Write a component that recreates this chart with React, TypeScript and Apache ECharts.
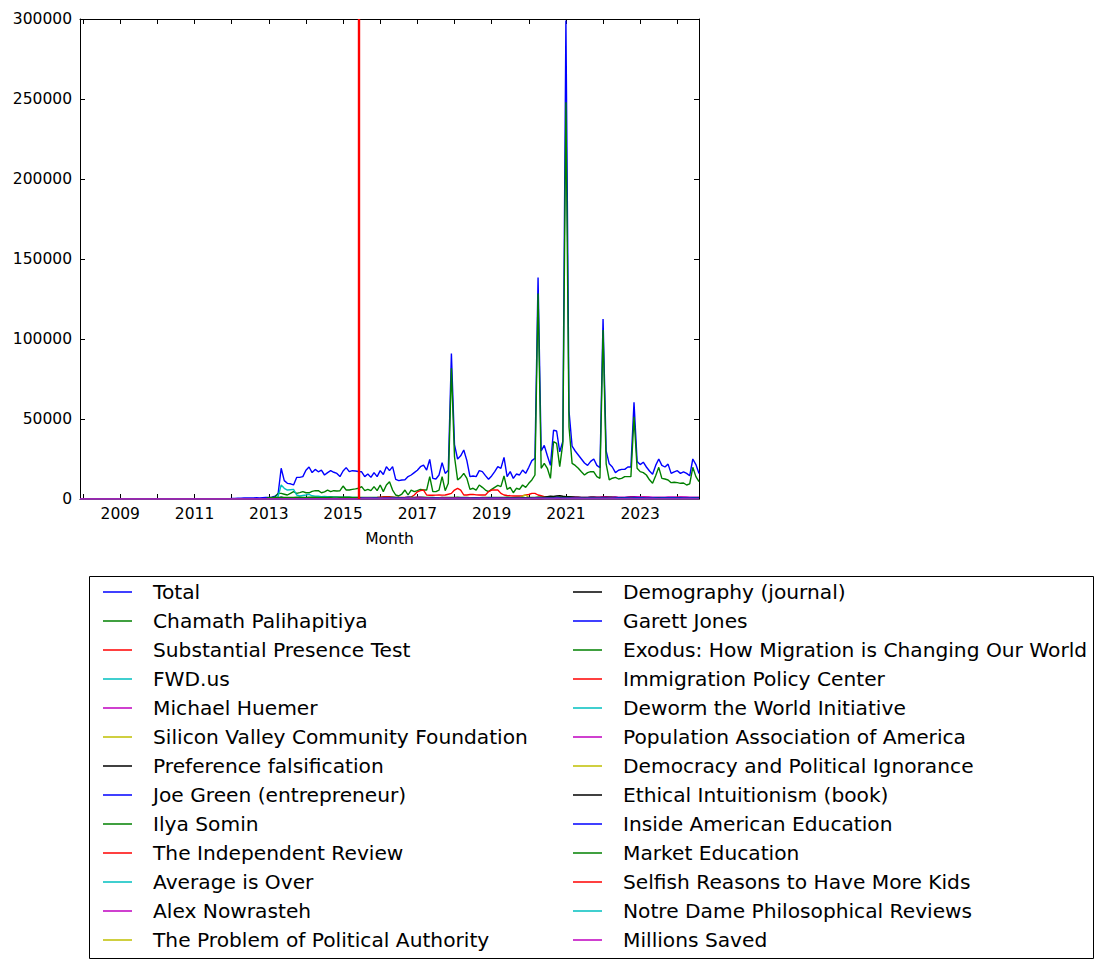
import React, { useEffect, useRef } from 'react';
import * as echarts from 'echarts';

// Monthly categories, Dec 2007 .. Aug 2024
const months: string[] = [];
{
  let y = 2007;
  let m = 12;
  while (y < 2024 || (y === 2024 && m <= 8)) {
    months.push(`${y}-${String(m).padStart(2, '0')}`);
    m++;
    if (m > 12) { m = 1; y++; }
  }
}

const yTicks = [0, 50000, 100000, 150000, 200000, 250000, 300000];
const vlineMonth = '2015-06';

// ---- values (zero before each series' start month) ----
const total = [ // from 2012-01
  300, 400, 500, 500, 600, 700, 600, 700, 800, 700, 800, 900,
  1000, 1200, 1800, 3000, 19200, 11500, 9800, 9500, 8800, 13500, 13500, 14000,
  18000, 20000, 16500, 18500, 17000, 18000, 15000, 16500, 17700, 16700, 16000, 14000,
  17500, 19600, 17100, 17700, 17500, 17200, 17000, 14000, 15600, 13500, 16500, 14000,
  17700, 15300, 20200, 17700, 20200, 12300, 11500, 11900, 12000, 14000, 15000, 16500,
  18000, 20200, 21200, 18100, 24800, 12900, 12500, 15000, 22700, 16000, 18000, 91000,
  34000, 25000, 27000, 30600, 24000, 14000, 14400, 14000, 17700, 17100, 14600, 12300,
  14400, 17100, 20200, 19200, 26000, 14000, 17100, 12900, 15600, 15000, 18100, 16000,
  19800, 24000, 25400, 138500, 30000, 33500, 27000, 21000, 43000, 42500, 29500, 36000,
  299000, 55000, 33000, 30000, 27500, 25000, 22500, 21000, 23500, 25000, 21000, 19500,
  112500, 30000, 22000, 20000, 16500, 18000, 18500, 18500, 20000, 20000, 60500, 23500,
  21500, 23000, 20000, 17500, 15500, 21000, 25000, 21000, 20000, 21800, 16000, 17000,
  17700, 16000, 17000, 16000, 14500, 25000, 21500, 16000,
];
const chamath = [ // from 2013-01
  800, 900, 1200, 3500, 3500, 3000, 2500, 3500, 4600, 3500, 4000, 4600,
  3900, 3900, 4800, 5200, 5200, 3900, 4500, 5600, 4600, 5200, 5000, 5200,
  8100, 5600, 5600, 6000, 6300, 6700, 7700, 5200, 6000, 5200, 7700, 5200,
  8750, 4600, 8750, 10800, 5600, 2500, 1900, 3100, 5600, 2500, 5600, 4600,
  5200, 6000, 5600, 5600, 14000, 4600, 4600, 5600, 14000, 5200, 9800, 81700,
  26400, 11900, 13500, 16000, 12900, 6000, 6700, 5600, 8750, 7300, 5600, 4600,
  6000, 7300, 8500, 7700, 14400, 6000, 7300, 3900, 6700, 6000, 8750, 7300,
  9800, 11900, 15000, 128500, 19200, 22300, 19200, 12900, 35800, 34800, 20200, 34800,
  248000, 45000, 22300, 21000, 19200, 17000, 15000, 16500, 17100, 17000, 14000, 12900,
  105600, 22000, 11900, 13000, 13500, 12500, 12900, 14000, 14000, 14000, 51400, 19200,
  17100, 16500, 15000, 12000, 9800, 14500, 19800, 12900, 12500, 11900, 10200, 10500,
  10200, 9800, 10000, 8750, 9500, 19800, 14000, 10800,
];
const substantialPresence = [ // from 2015-07
  600, 700, 700, 800, 800, 900,
  1200, 1400, 1500, 1400, 1200, 1000, 900, 900, 1000, 1100, 1200, 2500,
  4500, 5200, 5600, 2500, 2300, 2300, 2400, 2500, 2400, 2500, 3000, 3500,
  5600, 6700, 5600, 2500, 2500, 2800, 2900, 2600, 2500, 2500, 2500, 4600,
  5600, 5600, 5600, 3500, 2500, 2200, 2000, 1900, 1900, 1900, 2100, 2500,
  2800, 3500, 3500, 2500, 2000, 1500, 1300, 1200, 1100, 1000, 1000, 1100,
  1300, 1400, 1200, 1000, 900, 800, 800, 800, 900, 900, 900, 1000,
  1300, 1400, 1200, 1000, 900, 800, 800, 800, 800, 800, 900, 900,
  1200, 1300, 1100, 900, 800, 700, 700, 700, 700, 700, 800, 800,
  1100, 1200, 1000, 800, 700, 700, 700, 700,
];
const fwdUs = [ // from 2013-03
  300, 1500, 8750, 6700, 5600, 5800, 6000, 2500, 1900, 2200,
  2500, 2900, 2000, 1800, 1700, 1500, 1600, 1500, 1400, 1300, 1300, 1200,
  1200, 1100, 1100, 1000, 1000, 900, 700, 650, 650, 600, 600, 650,
  600, 600, 620, 580, 560, 540, 520, 500, 520, 540, 600, 650,
  700, 650, 620, 600, 580, 560, 540, 560, 600, 580, 560, 540,
  560, 540, 520, 500, 480, 500, 480, 460, 480, 460, 440, 420,
  440, 420, 400, 420, 400, 380, 360, 380, 400, 380, 360, 340,
  360, 340, 330, 320, 340, 360, 340, 320, 340, 330, 320, 300,
  320, 300, 290, 280, 270, 260, 250, 260, 270, 260, 250, 240,
  250, 240, 230, 240, 230, 220, 210, 220, 230, 220, 210, 200,
  210, 200, 190, 200, 190, 180, 170, 180, 190, 180, 170, 160,
  170, 160, 160, 150, 150, 140, 140, 150,
];
const michaelHuemer = [ // from 2015-07
  300, 320, 350, 330, 310, 300,
  320, 340, 330, 310, 300, 290, 280, 300, 320, 340, 330, 310,
  330, 350, 360, 340, 330, 320, 310, 330, 350, 360, 340, 330,
  350, 370, 360, 350, 340, 330, 320, 340, 360, 380, 360, 350,
  380, 400, 420, 410, 400, 390, 380, 420, 460, 500, 520, 560,
  600, 650, 700, 750, 800, 850, 820, 880, 900, 950, 1000, 1050,
  1100, 1150, 1100, 1050, 1000, 950, 980, 1000, 1050, 1100, 1150, 1200,
  1250, 1300, 1350, 1300, 1250, 1200, 1150, 1200, 1300, 1400, 1450, 1400,
  1350, 1300, 1300, 1250, 1200, 1150, 1100, 1150, 1200, 1250, 1300, 1250,
  1200, 1250, 1300, 1250, 1200, 1150, 1100, 1150,
];
const siliconValley = [ // from 2015-07
  700, 680, 650, 640, 620, 600,
  650, 640, 660, 630, 610, 600, 580, 590, 620, 640, 630, 600,
  640, 620, 650, 630, 600, 580, 560, 570, 600, 620, 610, 590,
  620, 600, 610, 590, 570, 560, 540, 550, 580, 600, 590, 570,
  600, 580, 590, 570, 550, 540, 520, 530, 560, 580, 1800, 2500,
  900, 560, 550, 530, 520, 510, 500, 490, 510, 520, 510, 500,
  520, 510, 500, 490, 480, 470, 460, 470, 480, 490, 480, 470,
  480, 470, 460, 450, 440, 430, 420, 430, 440, 450, 440, 430,
  440, 430, 420, 410, 400, 390, 380, 390, 400, 410, 400, 390,
  400, 390, 380, 370, 360, 350, 340, 350,
];
const preferenceFalsification = [ // from 2015-07
  400, 420, 450, 430, 410, 400,
  420, 440, 430, 410, 400, 390, 380, 400, 420, 440, 430, 410,
  450, 480, 470, 450, 430, 420, 410, 430, 450, 470, 460, 440,
  460, 480, 470, 450, 440, 430, 420, 440, 460, 480, 470, 450,
  480, 500, 520, 510, 500, 490, 480, 520, 560, 600, 620, 660,
  700, 750, 800, 900, 1000, 1200, 1500, 1800, 1600, 1900, 2000, 1700,
  1500, 1400, 1300, 1200, 1100, 1000, 950, 1000, 1050, 1100, 1000, 950,
  900, 950, 1000, 950, 900, 850, 800, 850, 900, 950, 900, 850,
  800, 850, 800, 780, 760, 740, 720, 740, 760, 780, 760, 740,
  720, 740, 760, 740, 720, 700, 680, 700,
];
const joeGreen = [ // from 2013-01
  100, 100, 150, 300, 1200, 600, 500, 400, 350, 300, 300, 300,
  320, 300, 280, 300, 290, 270, 260, 280, 300, 290, 280, 270,
  280, 270, 260, 250, 260, 250, 240, 230, 240, 230, 220, 210,
  220, 210, 200, 210, 200, 190, 180, 190, 200, 190, 180, 170,
  180, 170, 180, 170, 160, 150, 150, 160, 170, 160, 150, 140,
  150, 140, 140, 130, 130, 120, 120, 130, 140, 130, 120, 120,
  130, 120, 120, 110, 110, 100, 100, 110, 120, 110, 100, 100,
  110, 100, 100, 110, 100, 90, 90, 100, 110, 100, 90, 90,
  100, 90, 90, 80, 80, 80, 70, 80, 90, 80, 80, 70,
  80, 70, 70, 80, 70, 70, 60, 70, 80, 70, 70, 60,
  70, 60, 60, 70, 60, 60, 50, 60, 70, 60, 60, 50,
  60, 50, 50, 60, 50, 50, 50, 60,
];
const ilyaSomin = [ // from 2013-01
  800, 900, 1000, 900, 1100, 1000, 900, 950, 1000, 1100, 1050, 1000,
  1000, 1100, 1200, 1100, 1000, 950, 900, 1000, 1100, 1200, 1150, 1100,
  1100, 1200, 1100, 1000, 1000, 950, 900, 900, 950, 1000, 950, 900,
  1000, 950, 900, 1000, 1100, 1000, 900, 850, 900, 1000, 1100, 1000,
  1100, 1200, 1100, 1000, 950, 900, 850, 850, 900, 950, 1000, 950,
  1000, 1050, 1000, 950, 900, 850, 800, 800, 850, 900, 950, 900,
  950, 1000, 950, 900, 1000, 1100, 900, 850, 900, 950, 900, 850,
  900, 950, 1000, 1100, 1050, 1000, 950, 900, 950, 1100, 1200, 1000,
  1000, 950, 900, 850, 800, 800, 750, 750, 800, 850, 800, 780,
  800, 850, 1000, 900, 850, 800, 750, 750, 800, 850, 800, 750,
  780, 800, 750, 720, 700, 680, 660, 650, 700, 720, 700, 680,
  700, 720, 700, 680, 660, 650, 640, 660,
];
const independentReview = [ // from 2015-07
  220, 230, 240, 230, 220, 210,
  230, 240, 250, 240, 230, 220, 210, 220, 240, 250, 240, 230,
  240, 250, 260, 250, 240, 230, 220, 230, 250, 260, 250, 240,
  250, 240, 250, 240, 230, 220, 210, 220, 240, 250, 240, 230,
  240, 230, 240, 230, 220, 210, 200, 210, 230, 240, 230, 220,
  230, 220, 230, 220, 210, 200, 190, 200, 220, 230, 220, 210,
  220, 210, 200, 200, 190, 180, 170, 180, 200, 210, 200, 190,
  200, 190, 190, 180, 170, 170, 160, 170, 180, 190, 180, 170,
  180, 170, 170, 160, 160, 150, 150, 160, 170, 180, 170, 160,
  170, 160, 160, 150, 150, 140, 140, 150,
];
const averageIsOver = [ // from 2015-07
  320, 310, 300, 290, 300, 280,
  300, 290, 280, 270, 260, 250, 240, 250, 260, 270, 260, 250,
  260, 250, 240, 230, 220, 210, 200, 210, 220, 230, 220, 210,
  220, 210, 200, 190, 190, 180, 170, 180, 190, 200, 190, 180,
  190, 180, 170, 170, 160, 160, 150, 160, 170, 170, 160, 150,
  160, 150, 170, 160, 150, 150, 140, 150, 160, 160, 150, 140,
  150, 140, 140, 130, 130, 120, 120, 130, 140, 140, 130, 120,
  130, 120, 120, 110, 110, 100, 100, 110, 120, 120, 110, 100,
  110, 100, 100, 100, 90, 90, 90, 100, 110, 100, 100, 90,
  100, 90, 90, 90, 80, 80, 80, 90,
];
const alexNowrasteh = [ // from 2015-07
  450, 480, 500, 470, 520, 600,
  550, 520, 580, 540, 500, 620, 560, 600, 650, 700, 800, 750,
  1200, 1100, 800, 700, 650, 600, 580, 620, 900, 700, 650, 620,
  700, 650, 620, 600, 580, 700, 650, 600, 580, 650, 750, 600,
  650, 620, 600, 580, 560, 540, 520, 500, 520, 540, 520, 500,
  520, 500, 480, 460, 440, 460, 440, 420, 440, 460, 480, 440,
  460, 440, 420, 400, 380, 370, 360, 370, 380, 390, 380, 370,
  380, 370, 360, 350, 340, 330, 320, 330, 340, 360, 380, 350,
  340, 330, 320, 310, 300, 290, 280, 290, 300, 310, 300, 290,
  300, 290, 280, 290, 300, 290, 280, 290,
];
const politicalAuthority = [ // from 2015-07
  260, 270, 280, 270, 260, 240,
  280, 290, 300, 290, 280, 250, 230, 240, 290, 310, 300, 270,
  300, 310, 320, 300, 290, 260, 240, 250, 300, 320, 310, 280,
  300, 310, 320, 300, 280, 250, 230, 240, 290, 310, 300, 270,
  290, 300, 310, 290, 270, 240, 220, 230, 280, 300, 290, 260,
  280, 290, 300, 320, 300, 270, 250, 260, 300, 320, 310, 280,
  290, 300, 290, 280, 260, 240, 220, 230, 270, 290, 280, 260,
  270, 280, 290, 280, 260, 240, 220, 230, 270, 290, 280, 250,
  260, 270, 280, 270, 250, 230, 210, 220, 260, 280, 270, 240,
  250, 260, 270, 260, 240, 220, 200, 210,
];
const demography = [ // from 2015-07
  650, 640, 700, 720, 700, 600,
  680, 700, 720, 710, 690, 640, 600, 620, 700, 730, 720, 650,
  690, 710, 730, 720, 700, 650, 610, 630, 710, 740, 730, 660,
  700, 720, 740, 730, 710, 660, 620, 640, 720, 750, 740, 670,
  710, 730, 750, 740, 720, 670, 630, 650, 730, 760, 750, 680,
  720, 740, 780, 760, 740, 700, 660, 680, 740, 770, 760, 690,
  700, 720, 740, 730, 710, 660, 620, 640, 700, 730, 720, 650,
  680, 700, 720, 710, 690, 640, 600, 620, 680, 710, 700, 630,
  660, 680, 700, 690, 670, 620, 580, 600, 660, 690, 680, 610,
  640, 660, 680, 670, 650, 600, 560, 580,
];
const garettJones = [ // from 2015-07
  600, 620, 650, 640, 700, 680,
  720, 700, 680, 650, 640, 620, 600, 620, 640, 1100, 900, 800,
  780, 760, 740, 720, 700, 680, 660, 680, 700, 720, 700, 680,
  700, 680, 660, 640, 620, 600, 580, 600, 620, 640, 620, 600,
  620, 600, 580, 560, 540, 520, 500, 520, 540, 560, 540, 520,
  540, 560, 600, 620, 640, 620, 600, 580, 600, 1000, 800, 700,
  680, 660, 640, 620, 600, 580, 560, 580, 600, 620, 600, 580,
  600, 620, 640, 620, 600, 580, 560, 580, 600, 620, 600, 580,
  600, 620, 640, 620, 600, 580, 560, 580, 600, 620, 600, 580,
  600, 620, 640, 620, 600, 580, 560, 580,
];
const exodus = [ // from 2015-07
  250, 260, 240, 230, 220, 210,
  230, 220, 210, 200, 190, 180, 170, 180, 190, 200, 190, 180,
  190, 180, 170, 160, 150, 150, 140, 150, 160, 170, 160, 150,
  160, 150, 140, 140, 130, 130, 120, 130, 140, 150, 140, 130,
  140, 130, 120, 120, 110, 110, 100, 110, 120, 130, 120, 110,
  120, 110, 110, 100, 100, 90, 90, 100, 110, 120, 110, 100,
  110, 100, 100, 90, 90, 80, 80, 90, 100, 110, 100, 90,
  100, 90, 90, 80, 80, 80, 70, 80, 90, 100, 90, 80,
  90, 80, 80, 70, 70, 70, 60, 70, 80, 90, 80, 70,
  80, 70, 70, 70, 60, 60, 60, 70,
];
const immigrationPolicy = [ // from 2015-07
  350, 340, 360, 380, 400, 420,
  450, 430, 420, 400, 380, 370, 360, 380, 420, 450, 480, 460,
  600, 550, 480, 450, 430, 420, 410, 430, 520, 480, 450, 430,
  460, 440, 420, 400, 390, 450, 420, 400, 390, 410, 430, 400,
  420, 400, 390, 380, 370, 360, 350, 360, 370, 380, 370, 360,
  370, 360, 350, 340, 330, 320, 310, 320, 330, 340, 330, 320,
  340, 330, 320, 310, 300, 290, 280, 290, 300, 310, 300, 290,
  300, 290, 280, 270, 260, 250, 240, 250, 260, 270, 260, 250,
  260, 250, 240, 230, 220, 210, 200, 210, 220, 230, 220, 210,
  220, 210, 200, 190, 180, 170, 160, 170,
];
const deworm = [ // from 2015-07
  380, 370, 390, 400, 380, 360,
  420, 400, 390, 380, 370, 360, 350, 360, 380, 400, 410, 420,
  410, 400, 390, 380, 370, 360, 350, 360, 380, 390, 400, 410,
  400, 390, 380, 370, 360, 350, 340, 350, 370, 380, 390, 400,
  390, 380, 370, 360, 350, 340, 330, 340, 360, 370, 380, 390,
  380, 370, 360, 350, 340, 330, 320, 330, 350, 360, 370, 380,
  370, 360, 350, 340, 330, 320, 310, 320, 340, 350, 360, 370,
  360, 350, 340, 330, 320, 310, 300, 310, 330, 340, 350, 360,
  350, 340, 330, 320, 310, 300, 290, 300, 320, 330, 340, 350,
  340, 330, 320, 310, 300, 290, 280, 290,
];
const populationAssoc = [ // from 2015-07
  260, 270, 280, 270, 260, 230,
  270, 280, 300, 320, 300, 260, 240, 250, 270, 280, 270, 240,
  270, 280, 300, 330, 310, 260, 240, 250, 270, 280, 270, 240,
  270, 280, 300, 330, 310, 260, 240, 250, 270, 280, 270, 240,
  260, 270, 290, 320, 300, 250, 230, 240, 260, 270, 260, 230,
  260, 270, 290, 310, 290, 250, 230, 240, 260, 270, 260, 230,
  250, 260, 280, 300, 280, 240, 220, 230, 250, 260, 250, 220,
  250, 260, 280, 300, 280, 240, 220, 230, 250, 260, 250, 220,
  240, 250, 270, 290, 270, 230, 210, 220, 240, 250, 240, 210,
  240, 250, 270, 290, 270, 230, 210, 220,
];
const democracyIgnorance = [ // from 2015-07
  180, 170, 180, 190, 200, 170,
  190, 200, 210, 200, 190, 170, 160, 170, 200, 250, 300, 220,
  200, 190, 180, 170, 160, 150, 140, 150, 170, 180, 170, 160,
  170, 160, 150, 150, 140, 130, 120, 130, 150, 170, 180, 150,
  150, 140, 140, 130, 130, 120, 110, 120, 140, 150, 140, 130,
  140, 130, 130, 120, 120, 110, 110, 120, 140, 180, 200, 150,
  140, 130, 120, 120, 110, 100, 100, 110, 120, 130, 120, 110,
  120, 110, 110, 100, 100, 90, 90, 100, 120, 140, 150, 110,
  110, 100, 100, 90, 90, 80, 80, 90, 100, 110, 100, 90,
  100, 90, 90, 90, 80, 80, 80, 90,
];
const ethicalIntuitionism = [ // from 2015-07
  140, 130, 150, 140, 130, 120,
  140, 150, 140, 130, 120, 110, 100, 110, 130, 140, 130, 120,
  130, 140, 130, 120, 110, 100, 90, 100, 120, 130, 120, 110,
  120, 130, 120, 110, 100, 100, 90, 100, 110, 120, 110, 100,
  110, 120, 110, 100, 100, 90, 80, 90, 100, 110, 100, 90,
  100, 110, 110, 100, 100, 90, 80, 90, 100, 110, 100, 90,
  110, 120, 130, 120, 110, 100, 90, 100, 120, 130, 140, 130,
  140, 150, 140, 130, 120, 110, 100, 110, 130, 140, 130, 120,
  130, 140, 130, 120, 110, 100, 90, 100, 120, 130, 120, 110,
  120, 130, 120, 110, 100, 90, 80, 90,
];
const insideAmericanEd = [ // from 2015-07
  40, 35, 40, 45, 40, 35,
  40, 45, 40, 35, 30, 30, 25, 30, 35, 40, 35, 30,
  35, 40, 35, 30, 30, 25, 25, 30, 35, 40, 35, 30,
  35, 40, 35, 30, 30, 25, 25, 30, 35, 40, 35, 30,
  35, 40, 35, 30, 30, 25, 25, 30, 35, 40, 35, 30,
  35, 40, 35, 30, 30, 25, 25, 30, 35, 40, 35, 30,
  30, 35, 30, 30, 25, 25, 20, 25, 30, 35, 30, 25,
  30, 35, 30, 30, 25, 25, 20, 25, 30, 35, 30, 25,
  30, 35, 30, 30, 25, 25, 20, 25, 30, 35, 30, 25,
  30, 35, 30, 30, 25, 25, 20, 25,
];
const marketEducation = [ // from 2015-07
  55, 50, 55, 60, 55, 50,
  55, 60, 55, 50, 45, 45, 40, 45, 50, 55, 50, 45,
  50, 55, 50, 45, 45, 40, 40, 45, 50, 55, 50, 45,
  50, 55, 50, 45, 45, 40, 40, 45, 50, 55, 50, 45,
  50, 55, 50, 45, 40, 40, 35, 40, 45, 50, 45, 40,
  45, 50, 45, 40, 40, 35, 35, 40, 45, 50, 45, 40,
  45, 50, 45, 40, 40, 35, 35, 40, 45, 50, 45, 40,
  40, 45, 40, 35, 35, 30, 30, 35, 40, 45, 40, 35,
  40, 45, 40, 35, 35, 30, 30, 35, 40, 45, 40, 35,
  40, 45, 40, 35, 35, 30, 30, 35,
];
const selfishReasons = [ // from 2015-07
  160, 150, 160, 170, 160, 150,
  170, 160, 150, 150, 140, 140, 130, 140, 150, 160, 150, 140,
  150, 160, 150, 140, 140, 130, 120, 130, 140, 150, 140, 130,
  140, 150, 140, 130, 130, 120, 110, 120, 130, 140, 130, 120,
  130, 140, 130, 120, 120, 110, 100, 110, 120, 130, 120, 110,
  130, 140, 150, 160, 150, 140, 130, 140, 150, 160, 150, 140,
  140, 150, 140, 130, 130, 120, 110, 120, 130, 140, 130, 120,
  130, 140, 130, 120, 120, 110, 100, 110, 120, 130, 120, 110,
  120, 130, 120, 110, 110, 100, 90, 100, 110, 120, 110, 100,
  110, 120, 110, 100, 100, 90, 90, 100,
];
const notreDame = [ // from 2015-07
  190, 200, 210, 200, 190, 170,
  200, 210, 220, 210, 200, 180, 160, 170, 200, 210, 220, 190,
  200, 210, 220, 210, 200, 180, 160, 170, 200, 210, 220, 190,
  190, 200, 210, 200, 190, 170, 150, 160, 190, 200, 210, 180,
  190, 200, 210, 200, 190, 170, 150, 160, 190, 200, 210, 180,
  200, 210, 220, 230, 210, 190, 170, 180, 200, 210, 220, 190,
  190, 200, 210, 200, 190, 170, 150, 160, 190, 200, 210, 180,
  180, 190, 200, 190, 180, 160, 140, 150, 180, 190, 200, 170,
  170, 180, 190, 180, 170, 150, 130, 140, 170, 180, 190, 160,
  170, 180, 190, 180, 170, 150, 130, 140,
];
const millionsSaved = [ // from 2015-07
  90, 85, 80, 85, 90, 80,
  85, 80, 85, 90, 85, 80, 75, 80, 85, 90, 85, 80,
  80, 75, 80, 85, 80, 75, 70, 75, 80, 85, 80, 75,
  80, 75, 80, 85, 80, 75, 70, 75, 80, 85, 80, 75,
  75, 70, 75, 80, 75, 70, 65, 70, 75, 80, 75, 70,
  75, 70, 75, 80, 75, 70, 65, 70, 75, 80, 75, 70,
  70, 65, 70, 75, 70, 65, 60, 65, 70, 75, 70, 65,
  70, 65, 70, 75, 70, 65, 60, 65, 70, 75, 70, 65,
  65, 60, 65, 70, 65, 60, 55, 60, 65, 70, 65, 60,
  65, 60, 65, 70, 65, 60, 55, 60,
];

const seriesDefs: { name: string; start: string; values: number[] }[] = [
  { name: 'Total', start: '2012-01', values: total },
  { name: 'Chamath Palihapitiya', start: '2013-01', values: chamath },
  { name: 'Substantial Presence Test', start: '2015-07', values: substantialPresence },
  { name: 'FWD.us', start: '2013-03', values: fwdUs },
  { name: 'Michael Huemer', start: '2015-07', values: michaelHuemer },
  { name: 'Silicon Valley Community Foundation', start: '2015-07', values: siliconValley },
  { name: 'Preference falsification', start: '2015-07', values: preferenceFalsification },
  { name: 'Joe Green (entrepreneur)', start: '2013-01', values: joeGreen },
  { name: 'Ilya Somin', start: '2013-01', values: ilyaSomin },
  { name: 'The Independent Review', start: '2015-07', values: independentReview },
  { name: 'Average is Over', start: '2015-07', values: averageIsOver },
  { name: 'Alex Nowrasteh', start: '2015-07', values: alexNowrasteh },
  { name: 'The Problem of Political Authority', start: '2015-07', values: politicalAuthority },
  { name: 'Demography (journal)', start: '2015-07', values: demography },
  { name: 'Garett Jones', start: '2015-07', values: garettJones },
  { name: 'Exodus: How Migration is Changing Our World', start: '2015-07', values: exodus },
  { name: 'Immigration Policy Center', start: '2015-07', values: immigrationPolicy },
  { name: 'Deworm the World Initiative', start: '2015-07', values: deworm },
  { name: 'Population Association of America', start: '2015-07', values: populationAssoc },
  { name: 'Democracy and Political Ignorance', start: '2015-07', values: democracyIgnorance },
  { name: 'Ethical Intuitionism (book)', start: '2015-07', values: ethicalIntuitionism },
  { name: 'Inside American Education', start: '2015-07', values: insideAmericanEd },
  { name: 'Market Education', start: '2015-07', values: marketEducation },
  { name: 'Selfish Reasons to Have More Kids', start: '2015-07', values: selfishReasons },
  { name: 'Notre Dame Philosophical Reviews', start: '2015-07', values: notreDame },
  { name: 'Millions Saved', start: '2015-07', values: millionsSaved },
];

const palette = ['#0000ff', '#008000', '#ff0000', '#00bfbf', '#bf00bf', '#bfbf00', '#000000'];
const FONT = 'DejaVu Sans';

export default function App() {
  const ref = useRef<HTMLDivElement>(null);
  useEffect(() => {
    if (!ref.current) return;
    const chart = echarts.init(ref.current, undefined, { renderer: 'svg' });
    const names = seriesDefs.map((s) => s.name);
    const series: any[] = seriesDefs.map((s, k) => {
      const si = months.indexOf(s.start);
      const data = months.map((_, i) => (i < si ? 0 : s.values[i - si]));
      const color = palette[k % palette.length];
      const obj: any = {
        name: s.name,
        type: 'line',
        data,
        symbol: 'none',
        showSymbol: false,
        silent: true,
        lineStyle: { color, width: 1.4 },
        itemStyle: { color },
        emphasis: { disabled: true },
        xAxisIndex: 0,
        yAxisIndex: 0,
      };
      if (k === seriesDefs.length - 1) {
        obj.markLine = {
          silent: true,
          symbol: ['none', 'none'],
          label: { show: false },
          lineStyle: { color: '#ff0000', width: 2.4, type: 'solid' },
          data: [{ xAxis: vlineMonth }],
        };
      }
      return obj;
    });
    const isJan = (_: number, v: string) => v.endsWith('-01');
    const isOddJan = (_: number, v: string) => v.endsWith('-01') && Number(v.slice(0, 4)) % 2 === 1;
    const axisLine = { show: true, onZero: false, lineStyle: { color: '#000', width: 1 } };
    const legendCommon = {
      orient: 'vertical',
      top: 577,
      icon: 'rect',
      itemWidth: 29,
      itemHeight: 1.5,
      itemGap: 9,
      selectedMode: false,
      textStyle: { fontFamily: FONT, fontSize: 20.2, color: '#000', lineHeight: 20, padding: [0, 0, 0, 16] },
    };
    chart.setOption({
      animation: false,
      backgroundColor: '#ffffff',
      textStyle: { fontFamily: FONT },
      grid: { left: 80, top: 19, width: 619, height: 480, containLabel: false },
      xAxis: [
        {
          type: 'category', data: months, boundaryGap: false, position: 'bottom',
          axisLine,
          axisTick: { show: true, inside: true, length: 5, interval: isJan, lineStyle: { color: '#000' } },
          axisLabel: { show: true, interval: isOddJan, formatter: (v: string) => v.slice(0, 4), fontFamily: FONT, fontSize: 15.5, color: '#000', margin: 7 },
          splitLine: { show: false },
          name: 'Month', nameLocation: 'middle', nameGap: 32,
          nameTextStyle: { fontFamily: FONT, fontSize: 15.5, color: '#000' },
        },
        {
          type: 'category', data: months, boundaryGap: false, position: 'top',
          axisLine,
          axisTick: { show: true, inside: true, length: 5, interval: isJan, lineStyle: { color: '#000' } },
          axisLabel: { show: false },
          splitLine: { show: false },
        },
      ],
      yAxis: [
        {
          type: 'value', min: yTicks[0], max: yTicks[yTicks.length - 1], interval: yTicks[1] - yTicks[0], position: 'left',
          axisLine,
          axisTick: { show: true, inside: true, length: 5, lineStyle: { color: '#000' } },
          axisLabel: { fontFamily: FONT, fontSize: 15.5, color: '#000', margin: 8, formatter: (v: number) => String(v) },
          splitLine: { show: false },
        },
        {
          type: 'value', min: yTicks[0], max: yTicks[yTicks.length - 1], interval: yTicks[1] - yTicks[0], position: 'right',
          axisLine,
          axisTick: { show: true, inside: true, length: 5, lineStyle: { color: '#000' } },
          axisLabel: { show: false },
          splitLine: { show: false },
        },
      ],
      legend: [
        { ...legendCommon, left: 98, data: names.slice(0, 13) },
        { ...legendCommon, left: 568, data: names.slice(13) },
      ],
      graphic: [
        {
          type: 'rect', silent: true,
          shape: { x: 89.5, y: 576.5, width: 1004, height: 382 },
          style: { fill: 'none', stroke: '#000', lineWidth: 1 },
        },
      ],
      series,
    });
    return () => chart.dispose();
  }, []);
  return <div ref={ref} style={{ position: 'absolute', left: 0, top: 0, width: 1104, height: 969 }} />;
}
